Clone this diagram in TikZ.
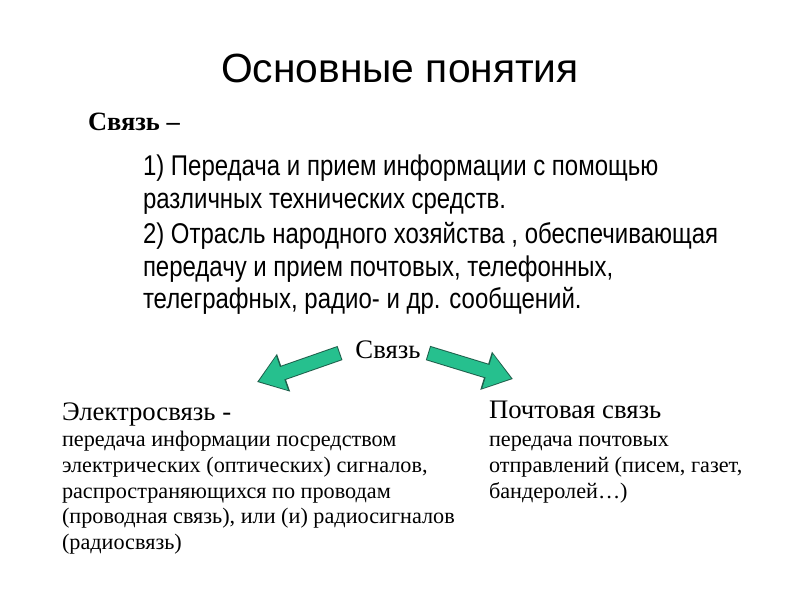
\documentclass[tikz,border=0pt]{standalone}
\usepackage{fontspec}
\setmainfont{Liberation Serif}
\setsansfont{Liberation Sans}
\newfontfamily\narrowsans[FakeStretch=0.84]{Liberation Sans}
\usetikzlibrary{arrows.meta,positioning}

\begin{document}
\begin{tikzpicture}[x=0.025cm,y=-0.025cm,inner sep=0pt,outer sep=0pt,
                    txt/.style={anchor=north west,align=left},
                    fatrim/.style={line width=10.6pt,draw=arrowrim,
                      -{Triangle[length=20pt,width=27pt]}},
                    fat/.style={line width=9.2pt,draw=arrowgreen,
                      shorten >=1.3pt,shorten <=0.7pt,
                      -{Triangle[length=17.6pt,width=24.2pt]}}]
  \definecolor{arrowgreen}{RGB}{38,192,142}
  \definecolor{arrowrim}{RGB}{30,95,75}
  \useasboundingbox (0,0) rectangle (800,600);

  \node (title) at (400,68) {\sffamily\fontsize{29}{32}\selectfont Основные понятия};
  \node[txt,font=\bfseries\fontsize{18.8}{20}\selectfont] (def) at (88,113) {Связь –};
  \node[txt,font=\narrowsans\fontsize{20.3}{23.2}\selectfont] (item1) at (143,155)
    {1) Передача и прием информации с помощью\\
     различных технических средств.};
  \node[txt,font=\narrowsans\fontsize{20.3}{23.2}\selectfont] (item2) at (143,222.5)
    {2) Отрасль народного хозяйства , обеспечивающая\\
     передачу и прием почтовых, телефонных,\\
     телеграфных, радио- и др. сообщений.};

  \node[font=\fontsize{19}{20}\selectfont] (root) at (388,350) {Связь};
  \node[txt] (elektro) at (62,403) {\fontsize{19}{20}\selectfont Электросвязь -};
  \node[txt,font=\fontsize{15.8}{18.35}\selectfont] (elektrotxt) at (62,431)
    {передача информации посредством\\
     электрических (оптических) сигналов,\\
     распространяющихся по проводам\\
     (проводная связь), или (и) радиосигналов\\
     (радиосвязь)};
  \node[txt] (pochta) at (489,401) {\fontsize{19}{20}\selectfont Почтовая связь};
  \node[txt,font=\fontsize{15.8}{18.35}\selectfont] (pochtatxt) at (489,436)
    {передача почтовых\\
     отправлений (писем, газет,\\
     бандеролей…)};

  \coordinate (ls) at (340,353);
  \coordinate (le) at (257,382);
  \coordinate (rs) at (428,353);
  \coordinate (re) at (513,379);
  \draw[fatrim] (ls) -- (le);
  \draw[fat] (ls) -- (le);
  \draw[fatrim] (rs) -- (re);
  \draw[fat] (rs) -- (re);
\end{tikzpicture}
\end{document}
